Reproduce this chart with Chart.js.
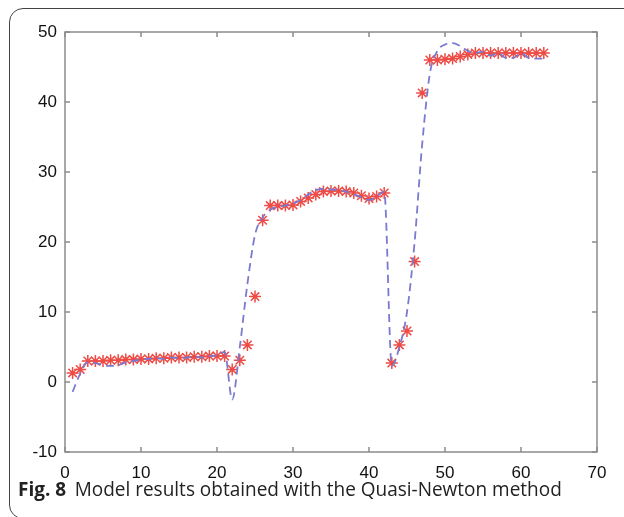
<!DOCTYPE html>
<html>
<head>
<meta charset="utf-8">
<script src="https://cdn.jsdelivr.net/npm/chart.js@4.4.1/dist/chart.umd.min.js"></script>
<style>
  html, body { margin: 0; padding: 0; background: #fff; }
  #wrap { position: relative; width: 624px; height: 517px; overflow: hidden; }
  #frame {
    position: absolute; left: 9px; top: 8px; width: 700px; height: 511px;
    border: 1px solid #444; border-radius: 14px; box-sizing: border-box;
  }
  #plot { position: absolute; left: 0; top: 0; width: 624px; height: 517px; }
  #caption {
    position: absolute; left: 18px; top: 475px; white-space: nowrap;
    font-family: "Open Sans", sans-serif; font-size: 20px; line-height: 28px; color: #222;
    transform-origin: 0 0;
  }
  #caption b { font-weight: 700; margin-right: 9px; }
</style>
</head>
<body>
<div id="wrap">
  <div id="frame"></div>
  <div id="plot"><canvas id="chart"></canvas></div>
  <div id="caption"><b>Fig. 8</b>Model results obtained with the Quasi-Newton method</div>
</div>
<script>
// x positions (sample index)
const xs = [1, 2, 3, 4, 5, 6, 7, 8, 9, 10, 11, 12, 13, 14, 15, 16, 17, 18, 19, 20, 21,
  22, 23, 24, 25, 26, 27, 28, 29, 30, 31, 32, 33, 34, 35, 36, 37, 38, 39, 40, 41, 42,
  43, 44, 45, 46, 47, 48, 49, 50, 51, 52, 53, 54, 55, 56, 57, 58, 59, 60, 61, 62, 63];

// measured values (red stars)
const measured = [1.3, 1.8, 3.0, 3.0, 3.0, 3.1, 3.1, 3.2, 3.2, 3.3, 3.3, 3.4, 3.4, 3.5, 3.5, 3.5, 3.6, 3.6, 3.7, 3.7, 3.7,
  1.8, 3.1, 5.3, 12.2, 23.1, 25.2, 25.2, 25.2, 25.3, 25.8, 26.3, 26.8, 27.2, 27.3, 27.3, 27.2, 27.0, 26.6, 26.2, 26.5, 27.0,
  2.7, 5.3, 7.3, 17.2, 41.3, 46.0, 46.0, 46.1, 46.2, 46.5, 46.8, 47.0, 47.0, 47.0, 47.0, 47.0, 47.0, 47.0, 47.0, 47.0, 47.0];

// model output (blue dashed line)
const model = [-1.4, 1.2, 2.8, 2.7, 2.4, 2.3, 2.4, 2.8, 3.0, 3.2, 3.3, 3.4, 3.3, 3.5, 3.4, 3.5, 3.6, 3.5, 3.7, 3.8, 4.3,
  -2.5, 5.0, 14.0, 21.0, 23.5, 24.6, 25.0, 25.2, 25.5, 26.0, 26.8, 27.4, 27.6, 27.5, 27.4, 27.2, 26.8, 26.4, 26.0, 26.5, 27.2,
  2.3, 5.0, 10.0, 20.0, 34.0, 44.0, 47.3, 48.2, 48.4, 48.0, 47.3, 47.0, 47.2, 46.6, 47.0, 46.3, 46.3, 47.0, 46.3, 46.2, 46.2];

const xTicks = [0, 10, 20, 30, 40, 50, 60, 70];
const yTicks = [-10, 0, 10, 20, 30, 40, 50];

const boxColor = '#8c8c8c';

// MATLAB style box with inward ticks
const boxPlugin = {
  id: 'box',
  afterDraw(chart) {
    const { ctx, chartArea: a, scales } = chart;
    ctx.save();
    ctx.strokeStyle = boxColor;
    ctx.lineWidth = 1.5;
    ctx.strokeRect(a.left, a.top, a.right - a.left, a.bottom - a.top);
    ctx.beginPath();
    xTicks.forEach(v => {
      const px = scales.x.getPixelForValue(v);
      ctx.moveTo(px, a.bottom); ctx.lineTo(px, a.bottom - 5);
      ctx.moveTo(px, a.top); ctx.lineTo(px, a.top + 5);
    });
    yTicks.forEach(v => {
      const py = scales.y.getPixelForValue(v);
      ctx.moveTo(a.left, py); ctx.lineTo(a.left + 5, py);
      ctx.moveTo(a.right, py); ctx.lineTo(a.right - 5, py);
    });
    ctx.stroke();
    ctx.restore();
  }
};

new Chart(document.getElementById('chart'), {
  type: 'line',
  data: {
    datasets: [
      {
        label: 'model',
        data: xs.map((x, i) => ({ x: x, y: model[i] })),
        borderColor: '#7a7ad0',
        borderWidth: 1.8,
        borderDash: [8, 5],
        pointRadius: 0,
        cubicInterpolationMode: 'monotone',
        fill: false
      },
      {
        label: 'measured',
        data: xs.map((x, i) => ({ x: x, y: measured[i] })),
        showLine: false,
        pointStyle: 'star',
        pointRadius: 6,
        borderColor: '#ee4b45',
        backgroundColor: '#ee4b45',
        pointBorderWidth: 1.5
      }
    ]
  },
  options: {
    responsive: true,
    maintainAspectRatio: false,
    animation: false,
    events: [],
    layout: { padding: { left: 0, top: 32, right: 27, bottom: 0 } },
    plugins: { legend: { display: false }, tooltip: { enabled: false } },
    scales: {
      x: {
        type: 'linear', min: 0, max: 70,
        grid: { display: false, drawTicks: false },
        border: { display: false },
        afterFit: s => { s.height = 65; },
        afterBuildTicks: s => { s.ticks = xTicks.map(v => ({ value: v })); },
        ticks: {
          padding: 11, color: '#111', maxRotation: 0,
          font: { family: 'Liberation Sans', size: 17 }
        }
      },
      y: {
        min: -10, max: 50,
        grid: { display: false, drawTicks: false },
        border: { display: false },
        afterFit: s => { s.width = 65; },
        afterBuildTicks: s => { s.ticks = yTicks.map(v => ({ value: v })); },
        ticks: {
          padding: 8, color: '#111',
          font: { family: 'Liberation Sans', size: 17 }
        }
      }
    }
  },
  plugins: [boxPlugin]
});

// stretch caption to the width it has in the figure
const cap = document.getElementById('caption');
cap.style.transform = 'scaleX(' + (544 / cap.offsetWidth) + ')';
</script>
</body>
</html>
